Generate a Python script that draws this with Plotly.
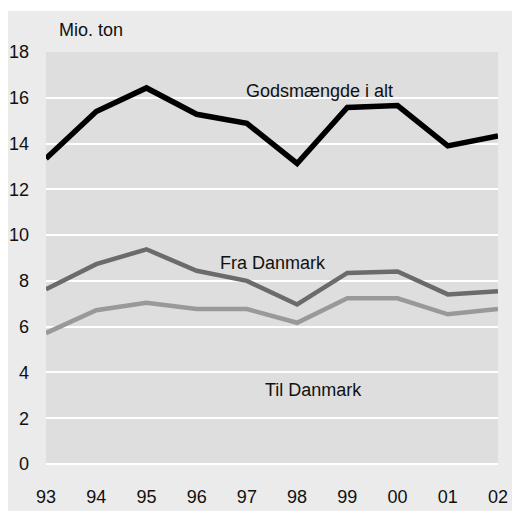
import plotly.graph_objects as go

years = ["93", "94", "95", "96", "97", "98", "99", "00", "01", "02"]
godsmaengde = [13.35, 15.4, 16.43, 15.28, 14.88, 13.13, 15.58, 15.66, 13.9, 14.33]
fra_danmark = [7.63, 8.73, 9.38, 8.44, 8.0, 6.97, 8.35, 8.41, 7.41, 7.55]
til_danmark = [5.72, 6.72, 7.04, 6.77, 6.77, 6.17, 7.24, 7.24, 6.54, 6.77]
y_ticks = [0, 2, 4, 6, 8, 10, 12, 14, 16, 18]

FONT = "Liberation Sans"
# page has an 8px body margin, so the figure starts at page (8, 8)
OFF = 8
W, H = 520 - OFF, 511 - OFF
ml, mr, mt, mb = 46 - OFF, 22, 52 - OFF, 47
pw, ph = W - ml - mr, H - mt - mb

def px_x(px):
    return (px - OFF - ml) / pw

def px_y(py):
    return 1 - (py - OFF - mt) / ph

fig = go.Figure()
fig.add_trace(go.Scatter(x=years, y=til_danmark, mode="lines",
                         line=dict(color="#999999", width=4.5), name="Til Danmark"))
fig.add_trace(go.Scatter(x=years, y=fra_danmark, mode="lines",
                         line=dict(color="#6b6b6b", width=4.5), name="Fra Danmark"))
fig.add_trace(go.Scatter(x=years, y=godsmaengde, mode="lines",
                         line=dict(color="#000000", width=5.5), name="Godsmængde i alt"))

# thin white strip above the grey panel
fig.add_shape(type="rect", xref="paper", yref="paper",
              x0=px_x(0), x1=px_x(530), y0=px_y(11), y1=px_y(0),
              fillcolor="#ffffff", line=dict(width=0), layer="above")

annos = [
    ("Mio. ton", px_x(57), px_y(30), "left"),
    ("Godsmængde i alt", px_x(319), px_y(91), "center"),
    ("Fra Danmark", px_x(273), px_y(263), "center"),
    ("Til Danmark", px_x(313), px_y(390), "center"),
]
for text, x, y, xa in annos:
    fig.add_annotation(text=text, x=x, y=y, xref="paper", yref="paper",
                       xanchor=xa, yanchor="middle", showarrow=False,
                       font=dict(family=FONT, size=18, color="#111111"))

fig.update_layout(
    width=W, height=H,
    margin=dict(l=ml, r=mr, t=mt, b=mb, pad=0, autoexpand=False),
    paper_bgcolor="#ebebeb",
    plot_bgcolor="#dedede",
    showlegend=False,
    font=dict(family=FONT, size=18, color="#111111"),
)
fig.update_xaxes(type="category", range=[0, 9], showgrid=False, zeroline=False,
                 showline=False, ticks="", ticklabelstandoff=20, automargin=False,
                 tickfont=dict(family=FONT, size=18, color="#111111"))
fig.update_yaxes(range=[0, 18], tickvals=y_ticks, showgrid=True, gridcolor="#ffffff",
                 gridwidth=2, zeroline=True, zerolinecolor="#ffffff", zerolinewidth=2,
                 showline=False, ticks="", ticklabelstandoff=16, automargin=False,
                 tickfont=dict(family=FONT, size=18, color="#111111"))

fig.write_html("out.html")
